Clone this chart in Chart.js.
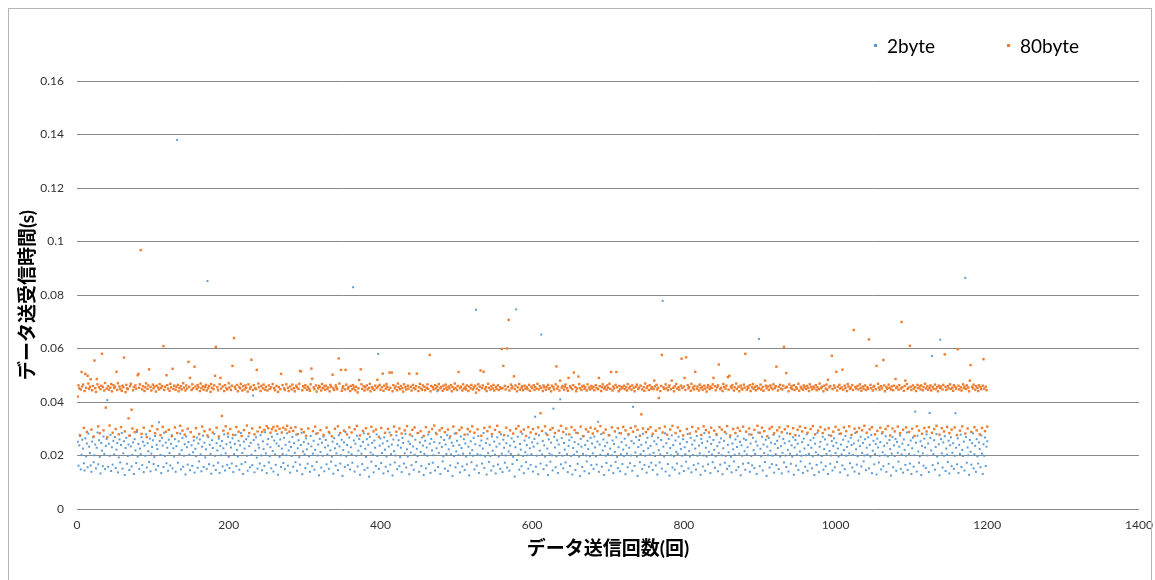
<!DOCTYPE html>
<html>
<head>
<meta charset="utf-8">
<script src="https://cdn.jsdelivr.net/npm/chart.js@4.4.1/dist/chart.umd.min.js"></script>
<style>
  html, body { margin: 0; padding: 0; background: #fff; }
  #wrap { position: relative; width: 1155px; height: 580px; overflow: hidden; }
  #frame { position: absolute; left: 8px; top: 8px; width: 1142px; height: 600px; border: 1px solid #b4b4b4; pointer-events: none; }
  #legend { position: absolute; left: 874px; top: 34px; display: flex; font-family: Lato, "Noto Sans CJK JP", sans-serif; font-size: 19px; color: #000; }
  #legend .item { width: 133px; display: flex; align-items: center; }
  #legend .box { width: 3px; height: 3px; margin-right: 10px; }
</style>
</head>
<body>
<div id="wrap">
  <canvas id="myChart" width="1155" height="580"></canvas>
  <div id="frame"></div>
  <div id="legend"></div>
</div>
<script>
(function () {
    "use strict";
    // 送信回数 1..1200 の送受信時間, 単位 0.1 ms
    const seriesNames = ['2byte', '80byte'];
    const seriesColors = ['#5b9bd5', '#ed7d31'];
    const xTickLabels = ['0', '200', '400', '600', '800', '1000', '1200', '1400'];
    const yTickLabels = ['0', '0.02', '0.04', '0.06', '0.08', '0.1', '0.12', '0.14', '0.16'];

    const time2byte = [
        251,162,238,273,148,203,259,226,171,144,264,197,245,156,282,233,209,163,139,252,268,175,201,241,152,229,286,167,257,195,133,247,218,160,271,206,149,236,262,407,
        158,244,199,277,142,231,166,255,204,269,153,222,247,137,193,260,174,239,284,151,208,253,127,228,266,169,198,241,146,275,234,159,202,249,131,261,219,172,288,196,
        243,150,226,205,268,164,251,138,237,199,279,155,246,216,176,263,141,207,232,257,168,194,273,147,240,224,161,324,254,202,134,266,237,157,285,198,248,171,229,143,
        259,209,163,244,276,152,227,196,261,139,235,1380,173,253,206,282,148,220,265,158,199,242,129,271,231,166,250,203,145,288,238,161,212,256,136,225,197,267,154,245,
        178,260,204,141,233,274,157,248,193,223,150,852,269,167,240,206,132,257,228,162,281,199,146,246,219,173,263,135,236,201,254,159,227,279,144,208,242,165,270,195,
        153,249,230,170,264,138,205,243,277,160,221,196,255,147,238,284,168,209,131,252,226,175,261,199,143,272,235,156,247,203,164,424,258,137,218,268,192,151,241,229,
        170,276,200,145,253,224,161,287,208,134,242,262,174,197,231,152,270,217,140,256,204,165,245,280,128,236,195,260,157,226,206,172,266,149,240,201,283,162,219,251,
        136,232,198,269,158,246,210,175,278,143,227,257,194,166,239,285,130,215,250,205,153,264,223,169,244,197,139,273,234,160,207,255,147,221,281,176,200,241,126,262,
        213,155,248,199,271,141,230,258,167,204,237,150,283,219,177,196,252,132,265,227,162,208,243,145,276,234,170,201,259,124,220,249,157,288,197,239,164,212,267,148,
        231,205,173,829,256,140,244,199,274,159,218,262,128,235,207,168,251,283,146,225,195,261,154,240,121,270,211,177,247,203,137,256,229,161,279,198,580,150,237,264,
        172,209,245,133,268,222,158,196,254,141,233,286,166,205,241,125,260,216,174,200,275,149,238,257,160,194,229,138,266,247,170,208,281,155,223,196,252,130,243,211,
        164,272,234,147,203,259,176,225,198,284,139,249,213,161,267,237,127,206,255,152,230,199,278,168,244,135,262,219,173,201,250,144,285,227,440,157,210,246,131,269,
        232,178,197,258,151,241,206,276,142,223,264,163,204,248,123,236,198,282,156,215,255,171,202,239,137,271,228,159,207,261,146,245,196,167,279,233,126,208,253,175,
        220,199,266,148,242,745,162,205,273,135,237,201,256,170,226,284,153,197,247,129,263,209,176,240,198,144,271,218,160,252,203,133,233,268,166,196,244,150,279,207,
        138,259,229,173,200,246,155,274,215,143,237,206,264,168,195,252,121,231,746,183,270,203,147,243,222,160,281,198,134,256,212,175,239,201,151,267,227,165,205,249,
        140,233,262,345,158,199,245,130,276,218,170,652,204,254,149,238,196,283,163,226,127,260,207,177,248,201,144,375,270,230,156,197,257,135,241,210,410,167,265,199,
        152,247,222,174,279,205,138,236,257,161,198,268,129,228,203,250,146,285,214,169,242,196,123,262,233,157,206,273,141,239,200,178,255,224,133,197,266,164,245,208,
        150,271,230,197,166,252,326,139,241,203,280,158,219,260,127,235,199,172,248,206,145,275,226,162,201,256,134,243,213,176,268,195,153,231,284,141,204,250,168,222,
        198,263,130,238,207,156,276,229,171,200,254,143,382,245,161,211,269,196,124,232,258,175,205,240,149,281,217,165,199,249,136,266,227,158,203,236,173,272,146,210,
        253,198,163,242,129,267,220,174,204,258,151,778,233,196,283,140,246,209,168,262,125,228,201,275,155,239,197,147,256,214,170,206,270,133,244,224,160,199,261,142,
        231,205,177,250,280,152,217,196,266,137,241,202,164,256,226,148,273,199,170,237,208,128,262,247,159,200,284,143,229,196,253,167,214,269,134,243,204,175,258,221,
        154,197,276,235,141,209,249,166,264,201,130,227,255,173,198,282,150,240,212,161,268,195,137,245,223,178,203,260,145,232,272,157,207,251,126,238,199,169,263,216,
        147,258,204,231,172,279,139,245,198,163,266,220,153,206,252,131,237,286,636,160,225,197,270,144,241,209,176,259,124,233,201,265,155,218,248,168,199,277,136,243,
        205,164,255,228,149,271,196,235,133,210,262,174,246,200,157,283,221,140,253,207,169,238,196,268,128,230,258,162,203,244,146,274,215,178,199,250,135,263,226,158,
        201,279,143,239,206,170,257,229,152,197,266,127,244,212,165,285,203,138,233,251,174,198,270,147,224,260,160,206,241,131,276,217,169,200,254,144,236,264,156,209,
        248,176,226,196,281,137,241,204,163,259,220,149,273,199,232,126,252,208,171,266,239,155,202,245,140,284,223,166,197,256,132,235,270,159,210,247,178,200,261,145,
        229,203,268,152,240,196,277,134,218,255,167,205,243,129,263,230,174,199,250,148,282,212,160,236,201,272,139,246,197,169,258,224,125,207,269,156,238,198,262,143,
        251,210,177,233,275,150,204,244,136,260,221,165,199,286,146,239,206,170,256,131,227,267,158,201,364,248,140,274,215,173,197,253,127,236,208,162,263,230,153,279,
        200,245,138,359,266,219,572,164,205,257,147,232,280,196,171,242,126,633,261,208,155,249,199,272,142,226,203,176,255,133,238,268,160,210,246,150,199,358,229,167,
        264,135,240,206,278,157,221,198,252,144,864,269,173,230,201,128,258,214,166,246,283,152,204,236,139,261,197,170,249,224,156,275,207,131,242,199,267,161,233,253
    ];

    const time80byte = [
        420,462,451,276,447,512,458,465,303,441,505,453,288,498,469,449,457,485,297,444,460,271,555,452,438,486,466,309,455,283,448,461,580,456,294,443,471,379,450,268,
        459,446,312,454,467,440,285,463,452,457,299,513,445,470,279,458,449,306,442,461,455,566,290,437,464,451,448,339,274,459,468,371,301,444,456,287,462,450,295,500,
        505,453,466,968,281,447,459,304,441,455,470,269,449,462,522,292,456,443,310,465,451,458,283,439,461,298,454,447,467,276,452,460,307,609,445,457,289,500,463,450,
        296,442,468,455,272,524,449,461,305,446,457,284,464,440,452,311,459,447,293,470,454,278,443,462,450,300,550,457,490,287,445,466,451,270,532,458,302,448,463,455,
        280,441,469,452,308,459,446,291,456,464,443,275,451,460,297,438,467,453,286,448,462,498,606,304,455,444,271,466,490,450,348,458,293,441,463,309,452,447,282,470,
        454,299,445,461,535,277,639,457,449,306,464,440,289,456,451,468,273,443,459,295,447,462,453,312,439,466,284,450,457,558,301,445,463,279,452,448,520,290,469,455,
        305,441,460,288,451,465,296,446,457,310,443,302,462,449,285,455,298,467,307,452,444,293,460,309,438,456,300,448,505,286,463,304,451,445,297,466,311,453,441,289,
        458,303,447,465,292,452,440,306,461,455,280,449,468,516,515,298,444,459,287,453,463,274,446,457,301,450,442,466,525,487,291,455,448,308,462,439,283,451,460,456,
        295,443,467,452,277,458,446,461,304,449,454,288,440,464,457,272,502,451,445,300,462,455,448,309,563,469,284,520,442,453,459,293,447,520,465,279,450,456,305,441,
        460,286,448,463,454,298,444,457,311,436,451,482,275,522,466,449,292,459,443,455,302,462,447,281,453,468,440,307,456,450,290,445,461,297,452,483,458,270,464,446,
        303,455,506,442,461,285,450,467,457,299,446,510,453,276,510,440,463,308,451,458,289,444,469,455,301,448,460,282,452,439,466,294,456,447,310,461,450,506,278,457,
        443,296,464,452,305,448,459,506,284,441,455,468,291,450,446,462,273,457,444,306,453,466,449,288,576,440,460,299,455,447,312,463,451,280,458,445,467,294,452,456,
        302,442,461,449,287,465,454,446,297,458,451,271,463,440,456,308,448,469,453,283,445,460,512,295,452,457,304,443,466,450,278,455,447,462,299,441,458,290,451,464,
        309,447,455,285,461,435,450,298,466,444,457,518,274,452,462,513,303,448,456,441,291,468,453,307,446,459,280,451,464,443,296,457,449,311,462,445,287,455,450,598,
        452,535,276,460,447,304,600,456,707,443,294,465,451,458,282,496,449,462,300,440,455,310,467,446,289,453,459,444,297,461,450,273,456,448,306,464,442,286,457,452,
        299,463,445,456,281,450,468,305,447,459,358,453,292,441,462,455,309,446,457,277,464,449,452,296,440,461,303,455,447,284,466,533,450,458,293,443,480,311,454,460,
        288,446,457,465,301,451,442,490,279,459,453,306,448,463,510,295,456,440,450,284,495,467,452,308,445,458,272,461,449,455,298,443,466,289,454,447,304,460,451,282,
        457,444,300,463,452,291,448,490,459,310,441,455,466,285,450,457,297,446,462,453,276,468,449,512,305,443,458,451,290,464,512,455,302,440,460,447,283,456,452,307,
        461,448,294,455,443,467,280,451,458,303,446,462,289,453,440,309,457,465,296,449,454,274,461,354,447,301,456,442,469,287,452,459,298,445,463,306,450,456,281,448,
        480,458,293,464,447,453,415,302,441,460,576,286,455,449,308,466,451,278,444,457,462,297,448,480,311,453,440,459,284,467,450,305,455,446,292,461,562,452,275,458,
        490,445,567,299,463,451,456,282,442,468,307,454,447,460,513,290,449,458,301,443,465,452,277,457,446,309,461,450,295,439,455,463,286,448,457,304,452,466,490,293,
        459,444,280,455,462,540,306,448,453,297,441,467,456,288,450,461,310,493,446,498,275,458,452,463,299,443,455,284,469,449,303,457,440,292,461,451,447,308,465,454,
        580,289,446,458,452,301,463,441,278,455,467,449,296,457,444,460,311,450,453,285,465,447,304,456,442,291,480,461,451,272,458,445,300,462,454,307,448,466,283,452,
        459,532,294,443,456,305,464,450,287,447,461,606,298,453,508,457,309,440,466,281,452,459,448,302,463,445,276,455,450,296,468,442,308,457,451,290,446,462,455,303,
        449,460,285,453,441,466,299,456,447,310,458,451,279,463,444,455,293,448,469,306,452,457,284,440,461,297,450,465,446,483,302,455,459,274,573,448,289,462,453,307,
        513,443,457,296,464,450,282,455,521,446,305,461,452,291,441,467,458,309,449,454,277,463,445,669,300,456,451,288,460,447,303,466,453,442,294,458,450,311,462,445,
        285,455,449,634,298,464,452,306,443,457,460,279,448,535,292,468,454,446,304,459,451,287,557,462,440,299,456,449,310,465,453,275,447,458,301,444,461,290,486,452,
        457,308,446,463,283,451,699,455,296,442,460,480,305,467,449,453,288,610,457,445,300,462,450,273,455,441,309,464,452,293,458,447,462,281,444,456,303,468,451,290,
        459,446,306,453,462,443,285,457,450,299,465,448,311,455,440,461,278,452,458,302,447,464,290,578,456,445,307,460,451,284,466,449,297,454,442,463,305,457,450,276,
        597,461,447,293,455,443,309,466,452,458,282,449,462,301,454,440,480,538,288,457,451,465,306,446,459,294,453,441,463,279,456,448,303,461,560,450,291,457,444,308
    ];

    const FONT = 'Lato, "Noto Sans CJK JP", sans-serif';

    function toPoints(values) {
        // x = 送信回数, y = 秒
        return values.map((v, i) => ({ x: i + 1, y: v / 10000 }));
    }

    const ctx = document.getElementById('myChart').getContext('2d');
    const chart = new Chart(ctx, {
        type: 'scatter',
        data: {
            datasets: [{
                    label: seriesNames[0],
                    data: toPoints(time2byte),
                    backgroundColor: seriesColors[0],
                    borderColor: seriesColors[0],
                    borderWidth: 0,
                    pointStyle: 'rect',
                    pointRadius: 1.4,
                    order: 1
                },
                {
                    label: seriesNames[1],
                    data: toPoints(time80byte),
                    backgroundColor: seriesColors[1],
                    borderColor: seriesColors[1],
                    borderWidth: 0,
                    pointStyle: 'rect',
                    pointRadius: 1.7,
                    order: 0
                }
            ]
        },
        options: {
            responsive: false,
            animation: false,
            layout: {
                padding: { left: 8, right: 16, top: 81, bottom: 10 }
            },
            plugins: {
                legend: { display: false },
                tooltip: { enabled: false }
            },
            scales: {
                x: {
                    type: 'linear',
                    min: 0,
                    max: 1400,
                    grid: { display: false, drawTicks: false },
                    border: { display: false },
                    ticks: {
                        stepSize: 200,
                        padding: 9,
                        color: '#333',
                        font: { family: FONT, size: 12 },
                        callback: (v) => xTickLabels[Math.round(v / 200)]
                    },
                    title: {
                        display: true,
                        text: 'データ送信回数(回)',
                        color: '#000',
                        font: { family: FONT, size: 19, weight: 'bold' },
                        padding: { top: 0, bottom: 10 }
                    },
                    afterFit: (s) => {
                        s.height = 61;
                        // the 1400 label may stick out on the right, like the original
                        s.paddingLeft = 0;
                        s.paddingRight = 0;
                    }
                },
                y: {
                    type: 'linear',
                    min: 0,
                    max: 0.16,
                    grid: { color: '#888888', lineWidth: 1, drawTicks: false },
                    border: { display: false },
                    ticks: {
                        stepSize: 0.02,
                        padding: 13,
                        color: '#333',
                        font: { family: FONT, size: 12 },
                        callback: (v) => yTickLabels[Math.round(v / 0.02)]
                    },
                    title: {
                        display: true,
                        text: 'データ送受信時間(s)',
                        color: '#000',
                        font: { family: FONT, size: 19, weight: 'bold' },
                        padding: { top: 8, bottom: 0 }
                    },
                    afterFit: (s) => { s.width = 69; }
                }
            }
        }
    });

    // 凡例 (HTML)
    const legendEl = document.getElementById('legend');
    chart.data.datasets.forEach((ds) => {
        const item = document.createElement('div');
        item.className = 'item';
        const box = document.createElement('span');
        box.className = 'box';
        box.style.background = ds.backgroundColor;
        const txt = document.createElement('span');
        txt.textContent = ds.label;
        item.appendChild(box);
        item.appendChild(txt);
        legendEl.appendChild(item);
    });
})();
</script>
</body>
</html>
